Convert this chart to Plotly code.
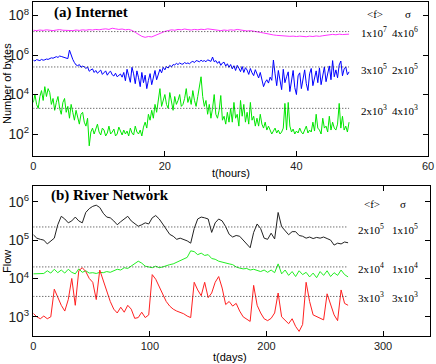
import numpy as np
import plotly.graph_objects as go

# ---- (a) Internet: log10 of bytes ----
hours_fine = np.arange(0, 48.001, 0.25)
hours_coarse = np.arange(0, 48.001, 0.5)

internet_top_log = [
    7.26, 7.24, 7.27, 7.25, 7.28, 7.26, 7.24, 7.27, 7.29, 7.26,
    7.25, 7.22, 7.24, 7.27, 7.25, 7.28, 7.26, 7.29, 7.27, 7.30,
    7.28, 7.31, 7.33, 7.30, 7.36, 7.33, 7.30, 7.32, 7.28, 7.30,
    7.25, 7.15, 7.05, 6.95, 6.90, 6.94, 6.92, 7.00, 7.08, 7.14,
    7.20, 7.24, 7.28, 7.26, 7.30, 7.28, 7.32, 7.29, 7.27, 7.30,
    7.28, 7.31, 7.29, 7.33, 7.30, 7.28, 7.26, 7.24, 7.27, 7.25,
    7.28, 7.26, 7.30, 7.27, 7.25, 7.22, 7.24, 7.20, 7.18, 7.15,
    7.12, 7.08, 7.05, 7.02, 7.00, 6.98, 6.96, 6.97, 6.95, 6.96,
    6.94, 6.96, 6.95, 6.93, 6.96, 6.94, 6.97, 6.95, 6.98, 7.00,
    7.02, 7.05, 7.03, 7.06, 7.04, 7.05, 7.06,
]

internet_mid_log = [
    5.74, 5.70, 5.77, 5.75, 5.72, 5.78, 5.74, 5.76,
    5.80, 5.78, 5.83, 5.86, 5.84, 5.89, 5.92, 5.88,
    5.95, 5.93, 5.90, 5.87, 5.85, 5.82, 6.25, 5.95,
    5.78, 5.62, 5.50, 5.46, 5.52, 5.38, 5.44, 5.40,
    5.32, 5.40, 5.18, 5.25, 5.30, 5.12, 5.22, 5.08,
    5.15, 5.24, 5.02, 5.10, 5.20, 4.98, 5.12, 5.18,
    5.00, 4.94, 5.08, 4.90, 4.98, 5.04, 4.88, 5.12,
    4.70, 5.28, 4.95, 4.62, 5.38, 5.05, 4.55, 5.20,
    4.85, 4.40, 5.12, 4.60, 4.98, 4.30, 4.72, 5.06,
    4.50, 4.88, 5.22, 4.75, 5.00, 5.28, 5.10, 5.38,
    5.25, 5.42, 5.34, 5.48, 5.40, 5.52, 5.50, 5.58,
    5.52, 5.60, 5.55, 5.54, 5.62, 5.57, 5.60, 5.56,
    5.64, 5.68, 5.62, 5.72, 5.70, 5.66, 5.74, 5.68,
    5.72, 5.66, 5.76, 5.70, 5.68, 5.90, 5.66, 5.72,
    5.58, 5.68, 5.48, 5.60, 5.64, 5.44, 5.56, 5.38,
    5.52, 5.30, 5.46, 5.22, 5.48, 5.34, 5.16, 5.42,
    5.12, 5.36, 5.24, 5.02, 5.32, 5.10, 4.96, 5.26,
    5.06, 4.84, 5.12, 4.78, 4.40, 4.62, 4.75, 4.58,
    4.88, 4.72, 5.75, 5.05, 4.45, 5.22, 4.70, 4.25,
    5.28, 4.60, 4.90, 5.15, 4.15, 4.80, 5.22, 4.35,
    4.00, 4.95, 5.10, 4.30, 4.70, 5.25, 4.55, 4.20,
    5.05, 5.32, 4.45, 4.85, 5.20, 4.60, 5.35, 4.50,
    4.95, 5.40, 4.65, 5.10, 5.45, 4.75, 5.72, 4.90,
    5.25, 4.85, 5.50, 5.70, 4.95, 5.30, 5.40, 5.00,
    5.15,
]

internet_low_log = [
    3.6, 4.0, 3.5, 3.3, 3.9, 4.2, 3.7, 4.4,
    3.9, 4.3, 4.1, 3.5, 3.8, 3.2, 3.6, 3.9,
    3.3, 3.0, 3.6, 3.8, 3.1, 3.4, 2.8, 3.5,
    3.1, 2.7, 3.2, 2.9, 2.5, 3.0, 3.1, 2.6,
    2.4, 2.8, 1.4, 2.1, 2.3, 2.0, 2.2, 2.5,
    2.1, 1.95, 2.3, 2.2, 1.9, 2.05, 2.4, 2.0,
    2.1, 2.25, 1.9, 2.0, 2.35, 2.1, 1.95, 2.2,
    2.0, 2.15, 1.9, 2.3, 2.05, 1.95, 2.4, 2.1,
    2.0, 2.2, 1.9, 2.35, 2.6, 2.3, 3.0, 2.7,
    3.2, 2.8, 3.5, 3.1, 3.8, 4.3, 3.4, 3.7,
    4.0, 3.5, 3.3, 4.1, 3.6, 3.2, 3.9, 3.5,
    3.7, 4.0, 3.4, 3.5, 3.8, 4.3, 3.6, 3.9,
    3.5, 4.2, 3.7, 3.4, 3.9, 4.5, 4.9, 3.9,
    3.4, 3.7, 3.0, 3.5, 2.8, 3.3, 4.0, 3.0,
    2.8, 3.2, 3.95, 2.7, 2.9, 2.5, 3.1, 2.6,
    3.3, 2.6, 3.6, 2.8, 3.0, 2.4, 3.7, 2.9,
    3.5, 2.6, 3.1, 2.5, 3.6, 2.7, 2.9, 2.4,
    2.8, 2.4, 3.0, 2.5, 2.3, 2.6, 2.2, 2.4,
    2.2, 2.0, 2.15, 2.3, 2.05, 2.2, 2.0, 2.1,
    2.3, 3.55, 2.2, 3.6, 2.4, 2.1, 2.25, 2.0,
    2.15, 2.05, 2.3, 2.1, 2.0, 2.25, 2.4, 2.05,
    2.2, 2.1, 2.6, 2.15, 3.0, 2.3, 2.2, 2.0,
    2.8, 2.3, 2.4, 2.1, 2.9, 2.2, 2.6, 2.3,
    2.2, 2.5, 3.55, 2.3, 2.9, 2.2, 2.4, 2.1,
    2.6,
]

internet_means = [1.55e7, 2.5e5, 2.0e3]
internet_labels_f = ["1x10<sup>7</sup>", "3x10<sup>5</sup>", "2x10<sup>3</sup>"]
internet_labels_s = ["4x10<sup>6</sup>", "2x10<sup>5</sup>", "4x10<sup>3</sup>"]

# ---- (b) River network: log10 of flow, every 3 days ----
days = np.arange(0, 270.001, 3)

river_top_log = [
    5.14, 5.05, 5.02, 5.00, 4.90, 4.97, 5.05, 5.40, 5.62, 5.55,
    5.45, 5.50, 5.60, 5.50, 5.45, 5.72, 5.82, 5.88, 5.91, 5.85,
    5.70, 5.60, 5.58, 5.50, 5.40, 5.48, 5.56, 5.62, 5.50, 5.42,
    5.36, 5.40, 5.45, 5.42, 5.58, 5.64, 5.55, 5.42, 5.30, 5.15,
    5.10, 5.02, 5.05, 5.02, 4.98, 4.92, 5.30, 5.55, 5.60, 5.58,
    5.55, 5.20, 5.45, 5.55, 5.50, 5.35, 5.15, 5.08, 5.12, 5.10,
    5.00, 4.90, 4.80, 5.20, 5.42, 5.30, 5.05, 5.02, 5.18, 5.03,
    5.72, 5.35, 5.25, 5.14, 5.22, 5.22, 5.12, 5.10, 5.05, 5.08,
    5.04, 5.07, 5.05, 5.08, 5.04, 5.00, 4.87, 4.92, 4.90, 4.95,
    4.93,
]

river_mid_log = [
    4.12, 4.12, 4.12, 4.13, 4.20, 4.14, 4.24, 4.15, 4.22, 4.14,
    4.24, 4.16, 4.12, 4.25, 4.16, 4.20, 4.14, 4.15, 4.13, 4.16,
    4.15, 4.18, 4.16, 4.20, 4.24, 4.22, 4.28, 4.26, 4.33, 4.40,
    4.45, 4.40, 4.32, 4.30, 4.28, 4.32, 4.28, 4.30, 4.34, 4.36,
    4.38, 4.42, 4.45, 4.50, 4.55, 4.72, 4.70, 4.62, 4.66, 4.60,
    4.62, 4.52, 4.50, 4.45, 4.42, 4.40, 4.38, 4.36, 4.30, 4.27,
    4.25, 4.26, 4.22, 4.24, 4.20, 4.18, 4.22, 4.16, 4.22, 4.15,
    4.38, 4.12, 4.22, 4.08, 4.18, 4.05, 4.20, 4.10, 4.16, 4.04,
    4.14, 4.02, 4.18, 4.08, 4.20, 4.05, 4.15, 4.08, 4.22, 4.10,
    4.04,
]

river_low_log = [
    3.09, 3.00, 2.95, 3.02, 2.95, 3.00, 3.72, 3.50, 3.30, 3.15,
    3.45, 4.00, 3.30, 4.20, 4.28, 4.18, 4.00, 3.90, 3.45, 4.22,
    3.95, 3.65, 3.40, 3.20, 3.10, 3.25, 3.12, 3.30, 3.20, 2.96,
    2.98, 3.12, 2.98, 3.05, 4.10, 3.98, 3.80, 3.60, 3.40, 3.28,
    3.20, 3.15, 3.12, 3.08, 3.02, 2.98, 3.90, 3.70, 3.55, 3.90,
    3.50, 3.62, 3.90, 4.05, 3.75, 3.32, 3.40, 3.28, 3.35, 3.15,
    3.00, 2.95, 2.88, 3.82, 3.30, 3.10, 2.95, 2.90, 2.96, 3.10,
    3.62, 3.00, 2.90, 2.82, 2.95, 2.75, 2.62, 2.80, 3.90, 3.40,
    3.05, 3.00, 2.95, 2.92, 3.60, 3.30, 3.05, 2.90, 3.70, 3.35,
    3.30,
]

river_means = [2.2e5, 2.0e4, 3.4e3]
river_labels_f = ["2x10<sup>5</sup>", "2x10<sup>4</sup>", "3x10<sup>3</sup>"]
river_labels_s = ["1x10<sup>5</sup>", "1x10<sup>4</sup>", "3x10<sup>3</sup>"]

W, H = 436, 364
SERIF = "Liberation Serif, Times New Roman, serif"
SANS = "Liberation Sans, Arial, sans-serif"
DOTTED = dict(color="#333333", width=1, dash="1px,2px")

fig = go.Figure()

top_series = [
    (hours_coarse, internet_top_log, "#ff33ff"),
    (hours_fine, internet_mid_log, "#0000ff"),
    (hours_fine, internet_low_log, "#00e600"),
]
for t, vals, col in top_series:
    fig.add_trace(go.Scatter(x=t, y=10 ** np.array(vals), mode="lines",
                             line=dict(color=col, width=1), xaxis="x", yaxis="y"))
for m in internet_means:
    fig.add_trace(go.Scatter(x=[hours_fine[0], hours_fine[-1]], y=[m, m], mode="lines",
                             line=DOTTED, xaxis="x", yaxis="y"))

bottom_series = [
    (days, river_top_log, "#222222"),
    (days, river_mid_log, "#22ee22"),
    (days, river_low_log, "#ff2020"),
]
for t, vals, col in bottom_series:
    fig.add_trace(go.Scatter(x=t, y=10 ** np.array(vals), mode="lines",
                             line=dict(color=col, width=1), xaxis="x2", yaxis="y2"))
for m in river_means:
    fig.add_trace(go.Scatter(x=[days[0], days[-1]], y=[m, m], mode="lines",
                             line=DOTTED, xaxis="x2", yaxis="y2"))

axis_common = dict(showline=True, linecolor="black", linewidth=1, mirror="ticks",
                   ticks="inside", ticklen=5, tickcolor="black", showgrid=False,
                   zeroline=False, automargin=False,
                   tickfont=dict(family=SANS, size=11, color="#222222"))

x0 = 33.3 / W
fig.update_layout(
    width=W, height=H, margin=dict(l=0, r=0, t=0, b=0),
    paper_bgcolor="white", plot_bgcolor="white", showlegend=False,
    xaxis=dict(domain=[x0, 428 / W], range=[0, 60], dtick=20, anchor="y", **axis_common),
    yaxis=dict(domain=[1 - 156 / H, 1 - 2 / H], type="log", range=[0.885, 8.69],
               dtick=2, exponentformat="power", anchor="x", ticklabelstandoff=1,
               **axis_common),
    xaxis2=dict(domain=[x0, 429.7 / W], range=[0, 340], dtick=100, anchor="y2", **axis_common),
    yaxis2=dict(domain=[1 - 336 / H, 1 - 186 / H], type="log", range=[2.50, 6.41],
                dtick=1, exponentformat="power", anchor="x2", ticklabelstandoff=1,
                **axis_common),
)

def px_ann(text, x, y, size=11, family=SERIF, xanchor="center", **kw):
    fig.add_annotation(text=text, x=x / W, y=1 - y / H, xref="paper", yref="paper",
                       xanchor=xanchor, yanchor="middle", showarrow=False,
                       font=dict(family=family, size=size, color="black"), **kw)

# panel titles
px_ann("<b>(a) Internet</b>", 52, 13, size=15, xanchor="left")
px_ann("<b>(b) River Network</b>", 49, 195, size=15, xanchor="left")

# axis titles
px_ann("Number of bytes", 7, 84, family=SANS, textangle=-90)
px_ann("t(hours)", 231, 173, family=SANS)
px_ann("Flow", 7, 262, family=SANS, textangle=-90)
px_ann("t(days)", 230, 357, family=SANS)

# mean / sigma columns
px_ann("&lt;f&gt;", 375, 14)
px_ann("σ", 408, 14)
for lf, ls, yy in zip(internet_labels_f, internet_labels_s, [32, 69, 110]):
    px_ann(lf, 374, yy)
    px_ann(ls, 405, yy)

px_ann("&lt;f&gt;", 372, 204)
px_ann("σ", 403, 204)
for lf, ls, yy in zip(river_labels_f, river_labels_s, [229, 268, 297]):
    px_ann(lf, 371, yy)
    px_ann(ls, 405, yy)

# the page body has a default 8px margin; drop it so the figure sits at 0,0
fig.write_html("out.html", config={"displayModeBar": False},
               post_script="document.body.style.margin = '0';")
